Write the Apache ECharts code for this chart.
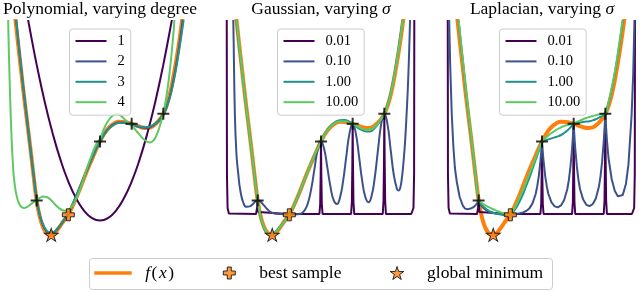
<!DOCTYPE html>
<html><head><meta charset="utf-8">
<script src="https://cdn.jsdelivr.net/npm/echarts@6/dist/echarts.min.js"></script>
<style>html,body{margin:0;padding:0;background:#fff}#c{width:640px;height:292px}</style>
</head><body><div id="c"></div>
<script>
// ---------- data ----------
const panelTitles = ['Polynomial, varying degree', 'Gaussian, varying {s|σ}', 'Laplacian, varying {s|σ}'];
const polyNames = ['1', '2', '3', '4'];
const sigmaNames = ['0.01', '0.10', '1.00', '10.00'];

const sampleX = [1, 2, 3, 4, 5];
const sampleY = [0.68, -0.04, 3.63, 4.51, 5.01];
const bestIndex = 1;
const globalMinX = 1.46;
const globalMinY = -1.04;

// true function f(x)
const fx = [[0.1,14.5],[0.2,12.0],[0.3,10.2],[0.4,8.7],[0.5,7.3],[0.6,5.9],[0.7,4.6],[0.8,3.3],[0.9,1.95],[1.0,0.68],[1.1,-0.15],[1.2,-0.65],[1.3,-0.92],[1.4,-1.03],[1.46,-1.04],[1.55,-0.98],[1.65,-0.8],[1.75,-0.58],[1.85,-0.35],[2.0,-0.04],[2.15,0.45],[2.3,1.0],[2.45,1.6],[2.6,2.2],[2.75,2.75],[2.9,3.3],[3.0,3.63],[3.15,4.05],[3.3,4.35],[3.45,4.53],[3.6,4.61],[3.75,4.6],[3.9,4.55],[4.0,4.51],[4.15,4.42],[4.3,4.34],[4.45,4.3],[4.6,4.33],[4.75,4.5],[4.9,4.75],[5.0,5.01],[5.1,5.4],[5.2,5.95],[5.3,6.7],[5.4,7.6],[5.5,8.6],[5.6,9.75],[5.7,11.1],[5.8,12.6]];

// polynomial panel
const poly1 = [[0.5,11.86],[0.6,10.9],[0.75,9.54],[0.9,8.27],[1.0,7.47],[1.25,5.64],[1.5,4.06],[1.75,2.72],[2.0,1.62],[2.25,0.77],[2.5,0.16],[2.75,-0.21],[3.0,-0.33],[3.25,-0.21],[3.5,0.16],[3.75,0.77],[4.0,1.62],[4.25,2.72],[4.5,4.06],[4.75,5.64],[5.0,7.47],[5.25,9.54],[5.4,10.9],[5.5,11.86]];
const poly2 = [[0.2,12.5],[0.3,10.55],[0.4,8.95],[0.5,7.45],[0.6,6.0],[0.7,4.65],[0.8,3.3],[0.9,1.98],[1.0,0.72],[1.1,-0.08],[1.2,-0.56],[1.3,-0.84],[1.4,-0.95],[1.48,-0.96],[1.6,-0.85],[1.75,-0.57],[1.9,-0.22],[2.0,0.02],[2.15,0.52],[2.3,1.08],[2.45,1.66],[2.6,2.24],[2.75,2.8],[2.9,3.32],[3.0,3.63],[3.15,4.03],[3.3,4.32],[3.45,4.5],[3.6,4.58],[3.75,4.58],[3.9,4.53],[4.0,4.49],[4.15,4.4],[4.3,4.33],[4.45,4.3],[4.6,4.35],[4.75,4.5],[4.9,4.75],[5.0,4.99],[5.1,5.35],[5.2,5.85],[5.3,6.55],[5.4,7.4],[5.5,8.4],[5.6,9.55],[5.7,10.8],[5.8,12.2]];
const poly3 = [[0.2,12.6],[0.3,10.6],[0.4,9.0],[0.5,7.5],[0.6,6.05],[0.7,4.7],[0.8,3.35],[0.9,2.0],[1.0,0.75],[1.1,-0.05],[1.2,-0.52],[1.3,-0.8],[1.4,-0.92],[1.48,-0.93],[1.6,-0.82],[1.75,-0.55],[1.9,-0.2],[2.0,0.05],[2.15,0.55],[2.3,1.1],[2.45,1.68],[2.6,2.25],[2.75,2.8],[2.9,3.32],[3.0,3.63],[3.15,4.02],[3.3,4.3],[3.45,4.47],[3.6,4.55],[3.75,4.55],[3.9,4.52],[4.0,4.49],[4.15,4.42],[4.3,4.36],[4.45,4.34],[4.6,4.39],[4.75,4.52],[4.9,4.75],[5.0,4.98],[5.1,5.32],[5.2,5.8],[5.3,6.45],[5.4,7.25],[5.5,8.2],[5.6,9.25],[5.7,10.4],[5.8,11.7]];
const poly4 = [[0.05,14],[0.1,9.65],[0.15,6.5],[0.2,4.1],[0.25,2.5],[0.3,1.55],[0.4,0.7],[0.5,0.38],[0.6,0.3],[0.7,0.36],[0.8,0.47],[0.9,0.59],[1.0,0.7],[1.1,0.81],[1.2,0.87],[1.3,0.85],[1.4,0.77],[1.5,0.62],[1.6,0.45],[1.7,0.3],[1.8,0.2],[1.9,0.16],[2.0,0.2],[2.1,0.35],[2.2,0.6],[2.3,0.95],[2.45,1.6],[2.6,2.35],[2.75,3.0],[2.9,3.55],[3.0,3.75],[3.15,4.35],[3.3,4.75],[3.45,4.97],[3.53,5.0],[3.65,4.92],[3.8,4.7],[3.9,4.55],[4.0,4.42],[4.15,4.15],[4.3,3.87],[4.45,3.65],[4.58,3.58],[4.7,3.7],[4.8,4.0],[4.9,4.45],[5.0,5.05],[5.1,5.9],[5.2,7.1],[5.3,8.7],[5.35,9.7],[5.45,12]];

// gaussian panel
const gauss001 = [[0.02,14],[0.03,2],[0.05,0.3],[0.09,0.03],[0.15,0],[0.95,0],[0.975,0.1],[0.99,0.4],[1.0,0.68],[1.01,0.4],[1.025,0.1],[1.05,0],[1.95,0],[2.0,-0.04],[2.05,0],[2.95,0],[2.975,0.5],[2.99,2.0],[3.0,3.63],[3.01,2.0],[3.025,0.5],[3.05,0],[3.95,0],[3.975,0.6],[3.99,2.5],[4.0,4.51],[4.01,2.5],[4.025,0.6],[4.05,0],[4.95,0],[4.975,0.7],[4.99,2.8],[5.0,5.01],[5.01,2.8],[5.025,0.7],[5.05,0],[5.85,0],[5.89,0.03],[5.92,0.3],[5.94,2],[5.95,14]];
const gauss010 = [[0.15,14],[0.2,11.2],[0.23,9.65],[0.28,5.0],[0.33,3.0],[0.39,1.97],[0.45,1.2],[0.55,0.55],[0.65,0.36],[0.75,0.38],[0.85,0.5],[0.92,0.62],[1.0,0.68],[1.08,0.63],[1.2,0.43],[1.3,0.25],[1.4,0.11],[1.5,0.04],[1.6,0.01],[1.7,0.0],[1.8,-0.01],[1.9,-0.03],[2.0,-0.04],[2.1,-0.03],[2.2,-0.02],[2.3,0.0],[2.4,0.05],[2.5,0.22],[2.6,0.61],[2.7,1.33],[2.8,2.32],[2.9,3.25],[3.0,3.63],[3.1,3.25],[3.2,2.33],[3.3,1.35],[3.4,0.69],[3.5,0.5],[3.6,0.82],[3.7,1.67],[3.8,2.89],[3.9,4.03],[4.0,4.51],[4.1,4.03],[4.2,2.89],[4.3,1.67],[4.4,0.85],[4.5,0.59],[4.6,0.92],[4.7,1.85],[4.8,3.21],[4.9,4.48],[5.0,5.01],[5.1,4.48],[5.2,3.21],[5.3,1.95],[5.4,1.25],[5.45,1.17],[5.5,1.3],[5.55,1.75],[5.6,2.5],[5.65,3.5],[5.7,4.9],[5.75,6.6],[5.8,9.0],[5.85,12]];
const gauss100 = [[0.2,12.4],[0.3,10.2],[0.4,8.6],[0.5,7.2],[0.6,5.85],[0.7,4.55],[0.8,3.25],[0.9,1.95],[1.0,0.68],[1.1,-0.2],[1.2,-0.72],[1.3,-0.98],[1.4,-1.05],[1.5,-0.98],[1.6,-0.82],[1.75,-0.55],[1.9,-0.25],[2.0,-0.04],[2.15,0.45],[2.3,1.0],[2.45,1.6],[2.6,2.2],[2.75,2.78],[2.9,3.3],[3.0,3.63],[3.15,4.08],[3.3,4.4],[3.45,4.6],[3.6,4.69],[3.75,4.7],[3.9,4.6],[4.0,4.51],[4.15,4.33],[4.3,4.19],[4.45,4.13],[4.55,4.13],[4.7,4.3],[4.85,4.62],[5.0,5.01],[5.1,5.45],[5.2,6.05],[5.3,6.85],[5.4,7.8],[5.5,8.85],[5.6,10.0],[5.7,11.3]];
const gauss1000 = [[0.2,12.2],[0.3,10.3],[0.4,8.7],[0.5,7.25],[0.6,5.88],[0.7,4.57],[0.8,3.27],[0.9,1.96],[1.0,0.68],[1.1,-0.17],[1.2,-0.68],[1.3,-0.95],[1.4,-1.04],[1.5,-1.0],[1.6,-0.85],[1.75,-0.57],[1.9,-0.27],[2.0,-0.04],[2.15,0.45],[2.3,1.0],[2.45,1.6],[2.6,2.2],[2.75,2.77],[2.9,3.3],[3.0,3.63],[3.15,4.06],[3.3,4.37],[3.45,4.56],[3.6,4.64],[3.75,4.64],[3.9,4.57],[4.0,4.51],[4.15,4.38],[4.3,4.26],[4.45,4.21],[4.55,4.22],[4.7,4.36],[4.85,4.64],[5.0,5.01],[5.1,5.42],[5.2,6.0],[5.3,6.78],[5.4,7.7],[5.5,8.75],[5.6,9.9],[5.7,11.2]];

// laplacian panel
const lap001 = [[0.02,14],[0.03,2],[0.05,0.3],[0.09,0.03],[0.15,0],[0.95,0],[0.975,0.1],[0.99,0.4],[1.0,0.68],[1.01,0.4],[1.025,0.1],[1.05,0],[1.95,0],[2.0,-0.04],[2.05,0],[2.95,0],[2.975,0.5],[2.99,2.0],[3.0,3.63],[3.01,2.0],[3.025,0.5],[3.05,0],[3.95,0],[3.975,0.6],[3.99,2.5],[4.0,4.51],[4.01,2.5],[4.025,0.6],[4.05,0],[4.95,0],[4.975,0.7],[4.99,2.8],[5.0,5.01],[5.01,2.8],[5.025,0.7],[5.05,0],[5.84,0],[5.88,0.03],[5.91,0.3],[5.93,2],[5.94,14]];
const lap010 = [[0.03,14],[0.07,9.65],[0.1,7.5],[0.15,5.0],[0.2,3.4],[0.25,2.3],[0.31,1.6],[0.4,0.85],[0.5,0.42],[0.57,0.27],[0.65,0.24],[0.75,0.27],[0.85,0.36],[0.92,0.47],[0.97,0.58],[1.0,0.68],[1.03,0.55],[1.08,0.42],[1.15,0.3],[1.25,0.17],[1.35,0.09],[1.5,0.03],[1.7,0.0],[1.9,-0.02],[2.0,-0.04],[2.1,-0.02],[2.3,0.04],[2.4,0.08],[2.5,0.15],[2.6,0.28],[2.7,0.53],[2.8,1.0],[2.85,1.39],[2.9,1.91],[2.95,2.64],[2.975,3.1],[3.0,3.63],[3.025,3.1],[3.05,2.65],[3.1,1.91],[3.15,1.39],[3.2,1.01],[3.3,0.58],[3.4,0.38],[3.5,0.33],[3.6,0.43],[3.7,0.7],[3.8,1.25],[3.85,1.72],[3.9,2.38],[3.95,3.27],[3.975,3.85],[4.0,4.51],[4.025,3.85],[4.05,3.27],[4.1,2.38],[4.15,1.72],[4.2,1.25],[4.3,0.72],[4.4,0.46],[4.5,0.39],[4.6,0.49],[4.7,0.78],[4.8,1.39],[4.85,1.91],[4.9,2.64],[4.95,3.64],[4.975,4.3],[5.0,5.01],[5.025,4.3],[5.05,3.7],[5.1,2.8],[5.2,1.75],[5.3,1.15],[5.4,0.88],[5.46,0.83],[5.55,0.95],[5.65,1.5],[5.73,2.47],[5.83,4.96],[5.88,7.0],[5.92,9.7],[5.95,13]];
const lap100 = [[0.2,13],[0.3,10.8],[0.4,9.1],[0.5,7.6],[0.6,6.1],[0.7,4.7],[0.8,3.35],[0.9,2.0],[1.0,0.68],[1.1,0.45],[1.2,0.3],[1.3,0.18],[1.4,0.1],[1.5,0.04],[1.6,0.0],[1.7,-0.03],[1.8,-0.05],[1.9,-0.05],[2.0,-0.04],[2.1,0.12],[2.2,0.35],[2.3,0.65],[2.4,1.0],[2.5,1.4],[2.6,1.8],[2.7,2.25],[2.8,2.7],[2.9,3.15],[3.0,3.63],[3.1,3.68],[3.2,3.73],[3.3,3.78],[3.4,3.83],[3.5,3.88],[3.6,3.95],[3.7,4.05],[3.8,4.18],[3.9,4.33],[4.0,4.51],[4.1,4.55],[4.2,4.58],[4.3,4.6],[4.4,4.62],[4.5,4.64],[4.6,4.68],[4.7,4.74],[4.8,4.82],[4.9,4.9],[5.0,5.01],[5.1,5.55],[5.2,6.25],[5.3,7.05],[5.4,8.0],[5.5,9.1],[5.6,10.3],[5.7,11.7]];
const lap1000 = [[0.2,13],[0.3,10.8],[0.4,9.2],[0.5,7.7],[0.6,6.2],[0.7,4.8],[0.8,3.4],[0.9,2.0],[1.0,0.68],[1.1,0.55],[1.2,0.45],[1.3,0.36],[1.4,0.28],[1.5,0.21],[1.6,0.14],[1.7,0.08],[1.8,0.03],[1.9,-0.01],[2.0,-0.04],[2.1,0.2],[2.2,0.5],[2.3,0.85],[2.4,1.2],[2.5,1.6],[2.6,2.0],[2.7,2.4],[2.8,2.8],[2.9,3.2],[3.0,3.63],[3.1,3.78],[3.2,3.92],[3.3,4.05],[3.4,4.15],[3.5,4.25],[3.6,4.33],[3.7,4.4],[3.8,4.45],[3.9,4.49],[4.0,4.51],[4.1,4.6],[4.2,4.67],[4.3,4.74],[4.4,4.8],[4.5,4.85],[4.6,4.9],[4.7,4.94],[4.8,4.97],[4.9,4.99],[5.0,5.01],[5.1,5.6],[5.2,6.3],[5.3,7.1],[5.4,8.1],[5.5,9.2],[5.6,10.4],[5.7,11.8]];

// ---------- styling / layout ----------
const FONT = 'Liberation Serif';
const viridis = ['#440154', '#3b528b', '#21918c', '#5ec962'];
const ORANGE = '#ff7f0e';
const gridLefts = [5, 226, 447];
const legendLefts = [69.5, 277.5, 499.5];
const PLUS_THIN = 'path://M5,0H7V5H12V7H7V12H5V7H0V5H5Z';
const PLUS_FAT = 'path://M4,0H8V4H12V8H8V12H4V8H0V4H4Z';
const STAR = 'path://M50,0L61.23,34.55L97.55,34.55L68.17,55.9L79.39,90.45L50,69.1L20.61,90.45L31.83,55.9L2.45,34.55L38.77,34.55Z';

const panels = [
  {names: polyNames, curves: [poly1, poly2, poly3, poly4], smooth: [true, true, true, true]},
  {names: sigmaNames, curves: [gauss001, gauss010, gauss100, gauss1000], smooth: [false, true, true, true]},
  {names: sigmaNames, curves: [lap001, lap010, lap100, lap1000], smooth: [false, false, true, true]}
];

const grids = [], xAxes = [], yAxes = [], series = [], titles = [], legends = [];
const hidden = {show: false};
panels.forEach((p, i) => {
  grids.push({left: gridLefts[i], top: 21, width: 190, height: 219});
  xAxes.push({type: 'value', gridIndex: i, min: 0, max: 6, axisLine: hidden, axisTick: hidden, axisLabel: hidden, splitLine: hidden});
  yAxes.push({type: 'value', gridIndex: i, min: -1.3, max: 9.65, axisLine: hidden, axisTick: hidden, axisLabel: hidden, splitLine: hidden});
  titles.push({
    text: panelTitles[i], left: gridLefts[i] + 95, top: 0, textAlign: 'center', padding: 0,
    textStyle: {fontFamily: FONT, fontSize: 17.5, fontWeight: 'normal', color: '#000',
      rich: {s: {fontFamily: FONT, fontSize: 17.5, fontStyle: 'italic', color: '#000'}}}
  });
  series.push({
    name: 'f(x)', type: 'line', xAxisIndex: i, yAxisIndex: i, data: fx, smooth: true,
    symbol: 'none', lineStyle: {color: ORANGE, width: 4}, itemStyle: {color: ORANGE}, z: 2, silent: true
  });
  p.curves.forEach((c, k) => {
    series.push({
      name: p.names[k], type: 'line', xAxisIndex: i, yAxisIndex: i, data: c, smooth: p.smooth[k],
      symbol: 'none', lineStyle: {color: viridis[k], width: 2}, itemStyle: {color: viridis[k]}, z: 3, silent: true
    });
  });
  series.push({
    name: 'samples', type: 'scatter', xAxisIndex: i, yAxisIndex: i,
    data: sampleX.map((x, j) => [x, sampleY[j]]).filter((d, j) => j !== bestIndex),
    symbol: PLUS_THIN, symbolSize: 12, itemStyle: {color: '#000'}, z: 5, silent: true
  });
  series.push({
    name: 'best sample', type: 'scatter', xAxisIndex: i, yAxisIndex: i,
    data: [[sampleX[bestIndex], sampleY[bestIndex]]],
    symbol: PLUS_FAT, symbolSize: 12, itemStyle: {color: ORANGE, borderColor: '#000', borderWidth: 1}, z: 6, silent: true
  });
  series.push({
    name: 'global minimum', type: 'scatter', xAxisIndex: i, yAxisIndex: i,
    data: [[globalMinX, globalMinY]],
    symbol: STAR, symbolSize: [14, 13], itemStyle: {color: ORANGE, borderColor: '#000', borderWidth: 1}, z: 6, silent: true
  });
  legends.push({
    orient: 'vertical', left: legendLefts[i], top: 29, data: p.names, icon: 'rect',
    itemWidth: 31, itemHeight: 2, itemGap: 4.4, padding: [4, 6, 5, 6],
    borderColor: '#cccccc', borderWidth: 1, borderRadius: 3, backgroundColor: 'rgba(255,255,255,0.8)',
    selectedMode: false,
    formatter: n => '{sp|}' + n,
    textStyle: {fontFamily: FONT, fontSize: 14.5, lineHeight: 16, color: '#000',
      rich: {sp: {width: 6}}}
  });
});

const bottomText = {fontFamily: FONT, fontSize: 17.5, lineHeight: 18, color: '#000'};
const richI = {fontFamily: FONT, fontSize: 17.5, fontStyle: 'italic', color: '#000', padding: [0, 1.5, 0, 1.5]};
legends.push({
  left: 94.3, top: 264, data: [{name: 'f(x)', icon: 'rect'}], itemWidth: 37.4, itemHeight: 3.5, selectedMode: false,
  padding: 0, itemStyle: {color: ORANGE},
  formatter: () => '{sp|}{i|f}({i|x})',
  textStyle: Object.assign({}, bottomText, {rich: {sp: {width: 7}, i: richI}})
});
legends.push({
  left: 222.8, top: 264, data: [{name: 'best sample', icon: PLUS_FAT}], itemWidth: 12, itemHeight: 12, selectedMode: false,
  padding: 0, itemStyle: {color: ORANGE, borderColor: '#000', borderWidth: 1},
  formatter: n => '{sp|}' + n,
  textStyle: Object.assign({}, bottomText, {rich: {sp: {width: 19}}})
});
legends.push({
  left: 389.7, top: 264, data: [{name: 'global minimum', icon: STAR}], itemWidth: 14, itemHeight: 13, selectedMode: false,
  padding: 0, itemStyle: {color: ORANGE, borderColor: '#000', borderWidth: 1},
  formatter: n => '{sp|}' + n,
  textStyle: Object.assign({}, bottomText, {rich: {sp: {width: 18}}})
});

const chart = echarts.init(document.getElementById('c'), null, {renderer: 'canvas'});
chart.setOption({
  animation: false,
  backgroundColor: '#fff',
  title: titles,
  grid: grids,
  xAxis: xAxes,
  yAxis: yAxes,
  legend: legends,
  graphic: [{
    type: 'rect', z: 0, shape: {x: 89.5, y: 258.5, width: 463, height: 31, r: 3},
    style: {fill: '#fff', stroke: '#cccccc', lineWidth: 1}
  }],
  series: series
});
</script></body></html>
